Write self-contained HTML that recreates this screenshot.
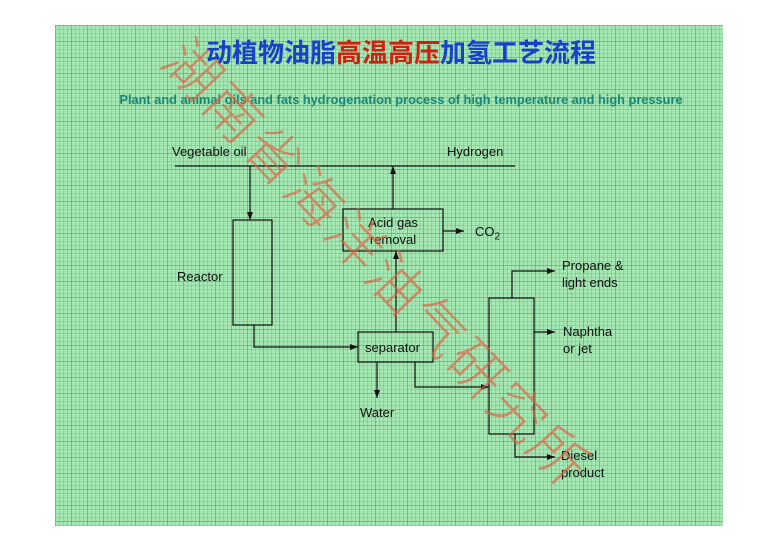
<!DOCTYPE html>
<html><head><meta charset="utf-8"><style>
html,body{margin:0;padding:0;background:#fff;width:779px;height:551px;overflow:hidden;}
body{position:relative;font-family:"Liberation Sans","Noto Sans CJK SC",sans-serif;}
#panel{position:absolute;left:55px;top:25px;width:668px;height:501px;
background-color:#a6e8b4;
background-image:
linear-gradient(to right,rgba(70,160,100,.4) 1px,transparent 1px),
linear-gradient(to bottom,rgba(70,160,100,.4) 1px,transparent 1px),
linear-gradient(to right,rgba(110,190,130,.45) 1px,transparent 1px),
linear-gradient(to bottom,rgba(110,190,130,.45) 1px,transparent 1px);
background-size:16px 16px,16px 16px,4px 4px,4px 4px;}
.t{position:absolute;font-size:13px;color:#111;line-height:17px;white-space:nowrap;}
#title{position:absolute;left:0;width:802px;top:33px;text-align:center;font-size:26px;font-weight:bold;color:#1a3fc8;font-family:"Liberation Sans","Noto Sans CJK SC",sans-serif;}
#title span{color:#d02010;}
#sub{position:absolute;left:0;width:802px;top:92px;text-align:center;font-size:12.8px;font-weight:bold;color:#1a8878;}
#wm{position:absolute;left:198px;top:26px;transform-origin:0 0;transform:rotate(46.5deg);font-size:56px;line-height:62px;color:rgba(225,95,65,.65);letter-spacing:3px;font-family:"Noto Sans CJK SC",sans-serif;font-weight:300;white-space:nowrap;}
</style></head><body>
<div id="panel"></div>
<div id="title">动植物油脂<span>高温高压</span>加氢工艺流程</div>
<div id="sub">Plant and animal oils and fats hydrogenation process of high temperature and high pressure</div>
<svg width="779" height="551" style="position:absolute;left:0;top:0">
<defs><marker id="a" markerWidth="8" markerHeight="6" refX="8" refY="3" orient="auto" markerUnits="userSpaceOnUse"><path d="M0,0 L8,3 L0,6z" fill="#111"/></marker></defs>
<g stroke="#111" stroke-width="1.2" fill="none">
<line x1="175" y1="166" x2="515" y2="166"/>
<line x1="250" y1="166" x2="250" y2="220" marker-end="url(#a)"/>
<rect x="233" y="220" width="39" height="105"/>
<polyline points="254,325 254,347 358,347" marker-end="url(#a)"/>
<rect x="358" y="332" width="75" height="30"/>
<rect x="343" y="209" width="100" height="42"/>
<line x1="396" y1="332" x2="396" y2="251" marker-end="url(#a)"/>
<line x1="393" y1="209" x2="393" y2="166" marker-end="url(#a)"/>
<line x1="443" y1="231" x2="464" y2="231" marker-end="url(#a)"/>
<line x1="377" y1="362" x2="377" y2="398" marker-end="url(#a)"/>
<polyline points="415,362 415,387 489,387" marker-end="url(#a)"/>
<rect x="489" y="298" width="45" height="136"/>
<polyline points="512,298 512,271 555,271" marker-end="url(#a)"/>
<line x1="534" y1="332" x2="555" y2="332" marker-end="url(#a)"/>
<polyline points="515,434 515,457 555,457" marker-end="url(#a)"/>
</g></svg>
<div class="t" style="left:172px;top:143px">Vegetable oil</div>
<div class="t" style="left:447px;top:143px">Hydrogen</div>
<div class="t" style="left:177px;top:268px">Reactor</div>
<div class="t" style="left:363px;top:214px;text-align:center;width:60px">Acid gas<br>removal</div>
<div class="t" style="left:475px;top:223px">CO<sub style="font-size:10px">2</sub></div>
<div class="t" style="left:365px;top:339px">separator</div>
<div class="t" style="left:360px;top:404px">Water</div>
<div class="t" style="left:562px;top:257px">Propane &amp;<br>light ends</div>
<div class="t" style="left:563px;top:323px">Naphtha<br>or jet</div>
<div class="t" style="left:561px;top:447px">Diesel<br>product</div>
<div id="wm">湖南省海洋油气研究所</div>
</body></html>
